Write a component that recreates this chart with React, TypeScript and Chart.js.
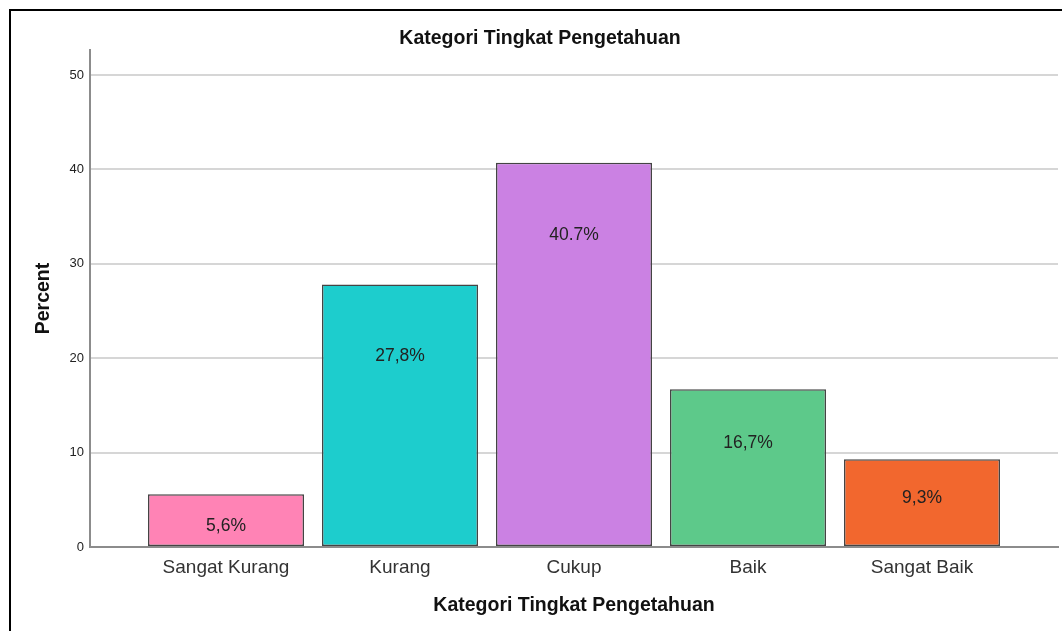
import React, { useEffect, useRef } from "react";
import { Chart, registerables } from "chart.js";

Chart.register(...registerables);

const categories = ["Sangat Kurang", "Kurang", "Cukup", "Baik", "Sangat Baik"];
const percentValues = [5.6, 27.8, 40.7, 16.7, 9.3];
const valueLabels = ["5,6%", "27,8%", "40.7%", "16,7%", "9,3%"];
const barColors = ["#FF83B5", "#1DCDCD", "#CB81E3", "#5DC98A", "#F2672E"];
const yTickValues = [0, 10, 20, 30, 40, 50];

const FONT = "'Liberation Sans', Arial, sans-serif";

const labelPlugin = {
  id: "barValueLabels",
  afterDatasetsDraw(chart: any) {
    const meta = chart.getDatasetMeta(0);
    const ctx = chart.ctx;
    ctx.save();
    ctx.font = `17.5px ${FONT}`;
    ctx.fillStyle = "#222";
    ctx.textAlign = "center";
    ctx.textBaseline = "middle";
    meta.data.forEach((bar: any, i: number) => {
      const h = bar.base - bar.y;
      const off = Math.min(72, 22 + h * 0.2);
      ctx.fillText(valueLabels[i], bar.x, bar.y + off);
    });
    ctx.restore();
  },
};

export default function App() {
  const ref = useRef<HTMLCanvasElement>(null);
  useEffect(() => {
    if (!ref.current) return;
    const chart = new Chart(ref.current, {
      type: "bar",
      data: {
        datasets: [
          {
            data: percentValues.map((v, i) => ({ x: i, y: v })),
            backgroundColor: barColors,
            borderColor: "#444",
            borderWidth: 1.5,
            borderSkipped: false,
            barPercentage: 1,
            categoryPercentage: 156 / 174,
          },
        ],
      },
      options: {
        responsive: false,
        animation: false,
        layout: { padding: { left: 22, right: 4, top: 0, bottom: 0 } },
        plugins: {
          legend: { display: false },
          tooltip: { enabled: false },
          title: {
            display: true,
            text: "Kategori Tingkat Pengetahuan",
            color: "#111",
            font: { family: FONT, size: 19.5, weight: "bold" },
            padding: { top: 26.6, bottom: 0 },
          },
        },
        scales: {
          x: {
            type: "linear",
            offset: false,
            min: -0.7816,
            max: 4.7816,
            afterBuildTicks: (axis: any) => {
              axis.ticks = categories.map((_, i) => ({ value: i }));
            },
            afterFit: (axis: any) => {
              axis.height = 84;
            },
            ticks: {
              callback: (v: any) => categories[v as number] ?? "",
              color: "#333",
              font: { family: FONT, size: 19 },
              padding: 9,
              maxRotation: 0,
              autoSkip: false,
            },
            grid: { display: false, drawTicks: false },
            border: { display: true, color: "#8c8c8c", width: 2 },
            title: {
              display: true,
              text: "Kategori Tingkat Pengetahuan",
              color: "#111",
              font: { family: FONT, size: 19.5, weight: "bold" },
              padding: { top: 0, bottom: 13.3 },
            },
          },
          y: {
            type: "linear",
            min: 0,
            max: 52.65,
            afterBuildTicks: (axis: any) => {
              axis.ticks = yTickValues.map((v) => ({ value: v }));
            },
            afterFit: (axis: any) => {
              axis.width = 68;
            },
            ticks: {
              color: "#222",
              font: { family: FONT, size: 13 },
              padding: 6,
            },
            grid: {
              color: (c: any) => (c.tick && c.tick.value === 0 ? "rgba(0,0,0,0)" : "#d6d6d6"),
              lineWidth: 2,
              drawTicks: false,
            },
            border: { display: true, color: "#8c8c8c", width: 2 },
            title: {
              display: true,
              text: "Percent",
              color: "#111",
              font: { family: FONT, size: 19.5, weight: "bold" },
              padding: { top: 9.5, bottom: 0 },
            },
          },
        },
      } as any,
      plugins: [labelPlugin],
    });
    return () => chart.destroy();
  }, []);

  return (
    <div
      style={{
        position: "fixed",
        left: 0,
        top: 0,
        width: 1062,
        height: 631,
        overflow: "hidden",
        background: "#fff",
      }}
    >
      <div
        style={{
          position: "absolute",
          left: 9,
          top: 9,
          width: 1200,
          height: 800,
          borderLeft: "2px solid #000",
          borderTop: "2px solid #000",
        }}
      />
      <canvas
        ref={ref}
        width={1062}
        height={631}
        style={{ position: "absolute", left: 0, top: 0, width: 1062, height: 631 }}
      />
    </div>
  );
}
